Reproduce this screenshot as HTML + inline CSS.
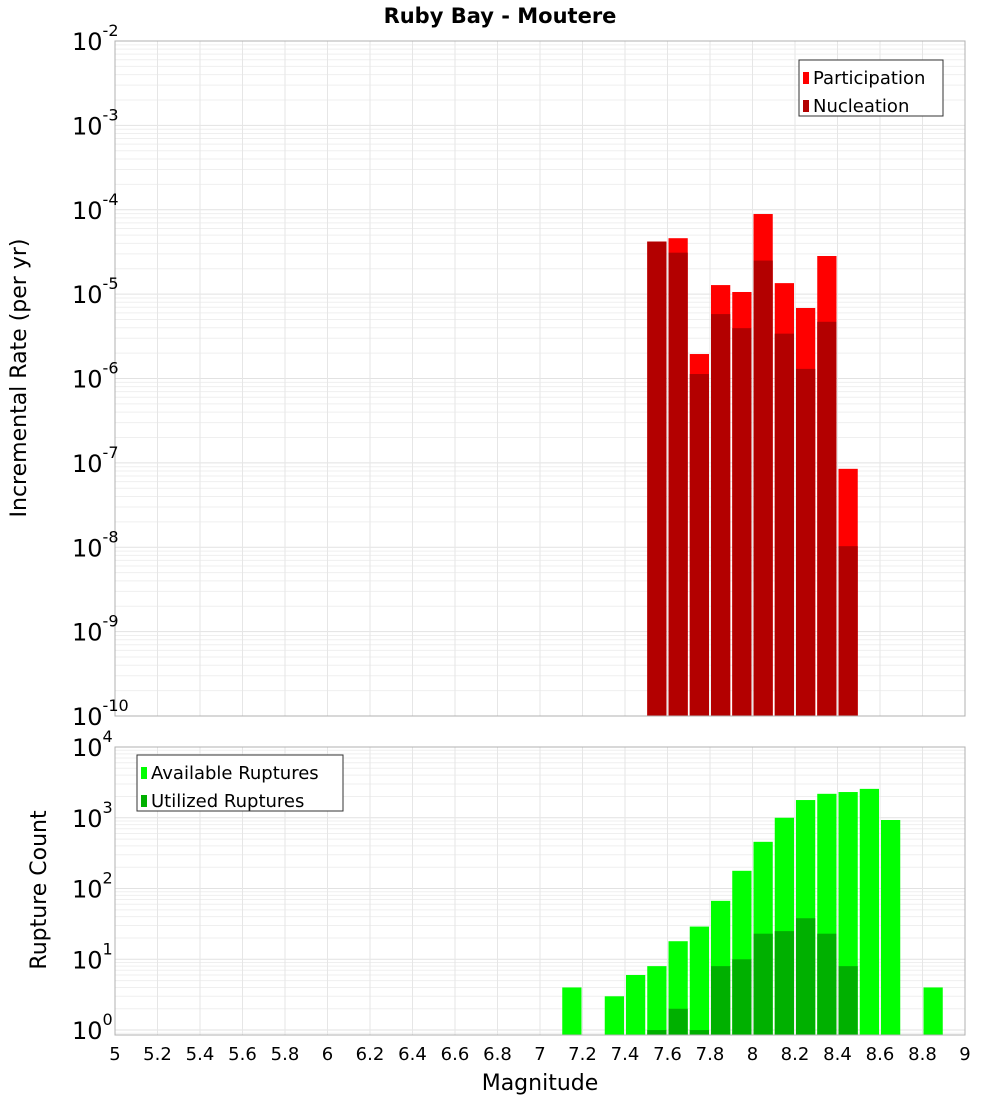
<!DOCTYPE html>
<html><head><meta charset="utf-8"><style>
body{margin:0;background:#fff;font-family:"DejaVu Sans","Liberation Sans",sans-serif}
svg text{font-family:"DejaVu Sans","Liberation Sans",sans-serif}
</style></head><body>
<svg id="c" width="1000" height="1100" xmlns="http://www.w3.org/2000/svg">
<text x="500" y="23" text-anchor="middle" font-size="21" font-weight="bold">Ruby Bay - Moutere</text>
<text transform="translate(26,378) rotate(-90)" text-anchor="middle" font-size="22">Incremental Rate (per yr)</text>
<text transform="translate(46,890) rotate(-90)" text-anchor="middle" font-size="22">Rupture Count</text>
<text x="540" y="1090" text-anchor="middle" font-size="22">Magnitude</text>
<g id="g"></g>
</svg>
<script>
const mags = [7.55,7.65,7.75,7.85,7.95,8.05,8.15,8.25,8.35,8.45];
const participation = [4.2e-5,4.6e-5,1.95e-6,1.28e-5,1.06e-5,8.9e-5,1.35e-5,6.85e-6,2.83e-5,8.5e-8];
const nucleation = [4.2e-5,3.1e-5,1.13e-6,5.8e-6,3.95e-6,2.5e-5,3.4e-6,1.3e-6,4.7e-6,1.03e-8];
const countMags = [7.15,7.35,7.45,7.55,7.65,7.75,7.85,7.95,8.05,8.15,8.25,8.35,8.45,8.55,8.65,8.85];
const available = [4,3,6,8,18,29,67,178,457,1000,1780,2180,2310,2560,930,4];
const utilMags = [7.55,7.65,7.75,7.85,7.95,8.05,8.15,8.25,8.35,8.45];
const utilized = [1,2,1,8,10,23,25,38,23,8];
const xTicks = [5,5.2,5.4,5.6,5.8,6,6.2,6.4,6.6,6.8,7,7.2,7.4,7.6,7.8,8,8.2,8.4,8.6,8.8,9];
const topExp = [-2,-3,-4,-5,-6,-7,-8,-9,-10];
const botExp = [4,3,2,1,0];

const NS='http://www.w3.org/2000/svg', G=document.getElementById('g');
function el(t,a,p){const e=document.createElementNS(NS,t);for(const k in a)e.setAttribute(k,a[k]);(p||G).appendChild(e);return e;}
const X0=115,X1=965;
const x=m=>X0+(m-5)/4*(X1-X0);
const T0=41,T1=716, yT=v=>T0+(-2-Math.log10(v))/8*(T1-T0);
const B0=747,B1=1035, bMin=-0.07, yB=v=>B0+(4-Math.log10(v))/(4-bMin)*(B1-B0);

function grid(top,bot,yf,lo,hi){
  for(let e=lo;e<hi;e++)for(let k=1;k<10;k++){const yy=yf(k*Math.pow(10,e));if(yy<top-0.5||yy>bot+0.5)continue;
    const l=el('line',{x1:X0,x2:X1,y1:yy,y2:yy,stroke:k==1?'#e2e2e2':'#efefef','stroke-width':1});
    }
  xTicks.forEach(t=>{const l=el('line',{x1:x(t),x2:x(t),y1:top,y2:bot,stroke:'#e6e6e6'});
    });
}
grid(T0,T1,yT,-10,-2);grid(B0,B1,yB,-1,4);

function bar(m,v,yf,base,fill,name){const r=el('rect',{x:x(m-0.05)+1,y:yf(v),width:x(m+0.05)-x(m-0.05)-2,height:base-yf(v),fill:fill});
  }
mags.forEach((m,i)=>bar(m,participation[i],yT,T1,'#ff0000','participation-bar'));
mags.forEach((m,i)=>bar(m,nucleation[i],yT,T1,'#b30000','nucleation-bar'));
countMags.forEach((m,i)=>bar(m,available[i],yB,B1,'#00ff00','available-bar'));
utilMags.forEach((m,i)=>bar(m,utilized[i],yB,B1,'#00b000','utilized-bar'));

[[T0,T1],[B0,B1]].forEach(([a,b])=>{const r=el('rect',{x:X0,y:a,width:X1-X0,height:b-a,fill:'none',stroke:'#b0b0b0'});
  });

function ylab(yy,e,name){const t=el('text',{x:72,y:yy+9,'font-size':24});
  t.textContent='10';const s=el('tspan',{dy:-14,'font-size':16},t);s.textContent=String(e);}
topExp.forEach(e=>ylab(yT(Math.pow(10,e)),e,'top-y-tick-label'));
botExp.forEach(e=>ylab(yB(Math.pow(10,e)),e,'bottom-y-tick-label'));
xTicks.forEach(t=>{const s=el('text',{x:x(t),y:1060,'text-anchor':'middle','font-size':18});
  s.textContent=String(t);});

function legend(lx,ly,w,items,name){const g=el('g',{});
  el('rect',{x:lx,y:ly,width:w,height:56,fill:'#fff',stroke:'#333'},g);
  items.forEach(([c,lbl],i)=>{el('rect',{x:lx+4,y:ly+12+i*28,width:6,height:12,fill:c},g);
    const t=el('text',{x:lx+14,y:ly+24+i*28,'font-size':18},g);t.textContent=lbl;});}
legend(799,60,144,[['#ff0000','Participation'],['#b30000','Nucleation']],'top-legend');
legend(137,755,206,[['#00ff00','Available Ruptures'],['#00b000','Utilized Ruptures']],'bottom-legend');
</script>
</body></html>
